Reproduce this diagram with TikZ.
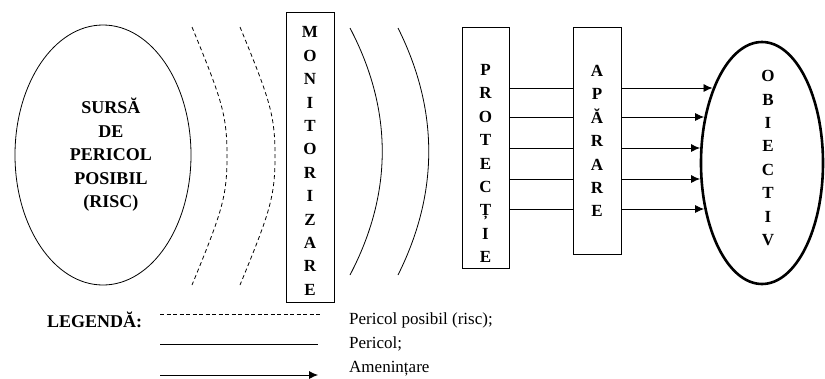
\documentclass[tikz,border=0pt]{standalone}
\usepackage{fontspec}
\setmainfont{Liberation Serif}[BoldFont={Liberation Serif Bold}]
\usetikzlibrary{shapes.geometric,arrows.meta}
\begin{document}
\begin{tikzpicture}[x=1pt,y=-1pt,
  thinline/.style={line width=0.8pt},
  box/.style={draw, line width=0.8pt, rectangle, inner sep=0pt, anchor=north west},
  vlet/.style={font=\bfseries\fontsize{17}{23.4}\selectfont, align=center, inner sep=0pt},
  dashline/.style={line width=0.8pt, dash pattern=on 4pt off 3pt},
  arr/.style={line width=0.8pt, -{Latex[length=9pt,width=8pt]}},
  legtext/.style={anchor=base west, inner sep=0pt, font=\fontsize{17}{20}\selectfont},
]
\useasboundingbox (0,0) rectangle (825,378);

% source ellipse
\node[draw, ellipse, line width=0.8pt, minimum width=176pt, minimum height=260pt, inner sep=0pt] (src) at (103,155) {};
\node[font=\bfseries\fontsize{18}{23.5}\selectfont, align=center, inner sep=0pt] (srctext) at (111,155) {SURSĂ\\DE\\PERICOL\\POSIBIL\\(RISC)};

% dashed curves
\draw[dashline] (192,27) .. controls (222,100) and (227,115) .. (227,156) .. controls (227,197) and (222,212) .. (192,285);
\draw[dashline] (240,27) .. controls (270,100) and (275,115) .. (275,156) .. controls (275,197) and (270,212) .. (240,285);

% monitorizare
\node[box, minimum width=48pt, minimum height=290pt] (mon) at (286,12) {};
\node[vlet] (montext) at (310,161) {M\\O\\N\\I\\T\\O\\R\\I\\Z\\A\\R\\E};

% solid curves
\draw[thinline] (350,28) .. controls (393,110) and (393,193) .. (350,275);
\draw[thinline] (398,28) .. controls (439,110) and (439,193) .. (398,275);

% protectie
\node[box, minimum width=47pt, minimum height=241pt] (prot) at (462,27) {};
\node[vlet] (prottext) at (485.5,163.5) {P\\R\\O\\T\\E\\C\\Ț\\I\\E};

% aparare
\node[box, minimum width=48pt, minimum height=227pt] (apa) at (573,27) {};
\node[vlet] (apatext) at (597,141) {A\\P\\Ă\\R\\A\\R\\E};

% objective
\node[draw, ellipse, line width=2.6pt, minimum width=122pt, minimum height=242pt, inner sep=0pt] (obj) at (762,163) {};
\node[vlet] (objtext) at (768,158) {O\\B\\I\\E\\C\\T\\I\\V};

% rows of arrows
\foreach \i/\yy/\tx in {1/88/714, 2/117/705.6, 3/148/701.5, 4/179/701.5, 5/209/705.6}{
  \coordinate (r\i) at (0,\yy);
  \coordinate (t\i) at (\tx-1.5,\yy);
  \draw[thinline] (prot.east |- r\i) -- (apa.west |- r\i);
  \draw[arr] (apa.east |- r\i) -- (t\i);
}

% legend
\node[anchor=base west, inner sep=0pt, font=\bfseries\fontsize{18}{20}\selectfont] (leg) at (47,327) {LEGENDĂ:};
\coordinate (l1a) at (160,314); \coordinate (l1b) at (320,314);
\coordinate (l2a) at (160,344); \coordinate (l2b) at (318,344);
\coordinate (l3a) at (160,375); \coordinate (l3b) at (318,375);
\draw[dashline, dash pattern=on 4pt off 2.5pt] (l1a) -- (l1b);
\draw[thinline] (l2a) -- (l2b);
\draw[arr] (l3a) -- (l3b);
\node[legtext] (lt1) at (349,324) {Pericol posibil (risc);};
\node[legtext] (lt2) at (349,348) {Pericol;};
\node[legtext] (lt3) at (349,372) {Amenințare};
\end{tikzpicture}
\end{document}
